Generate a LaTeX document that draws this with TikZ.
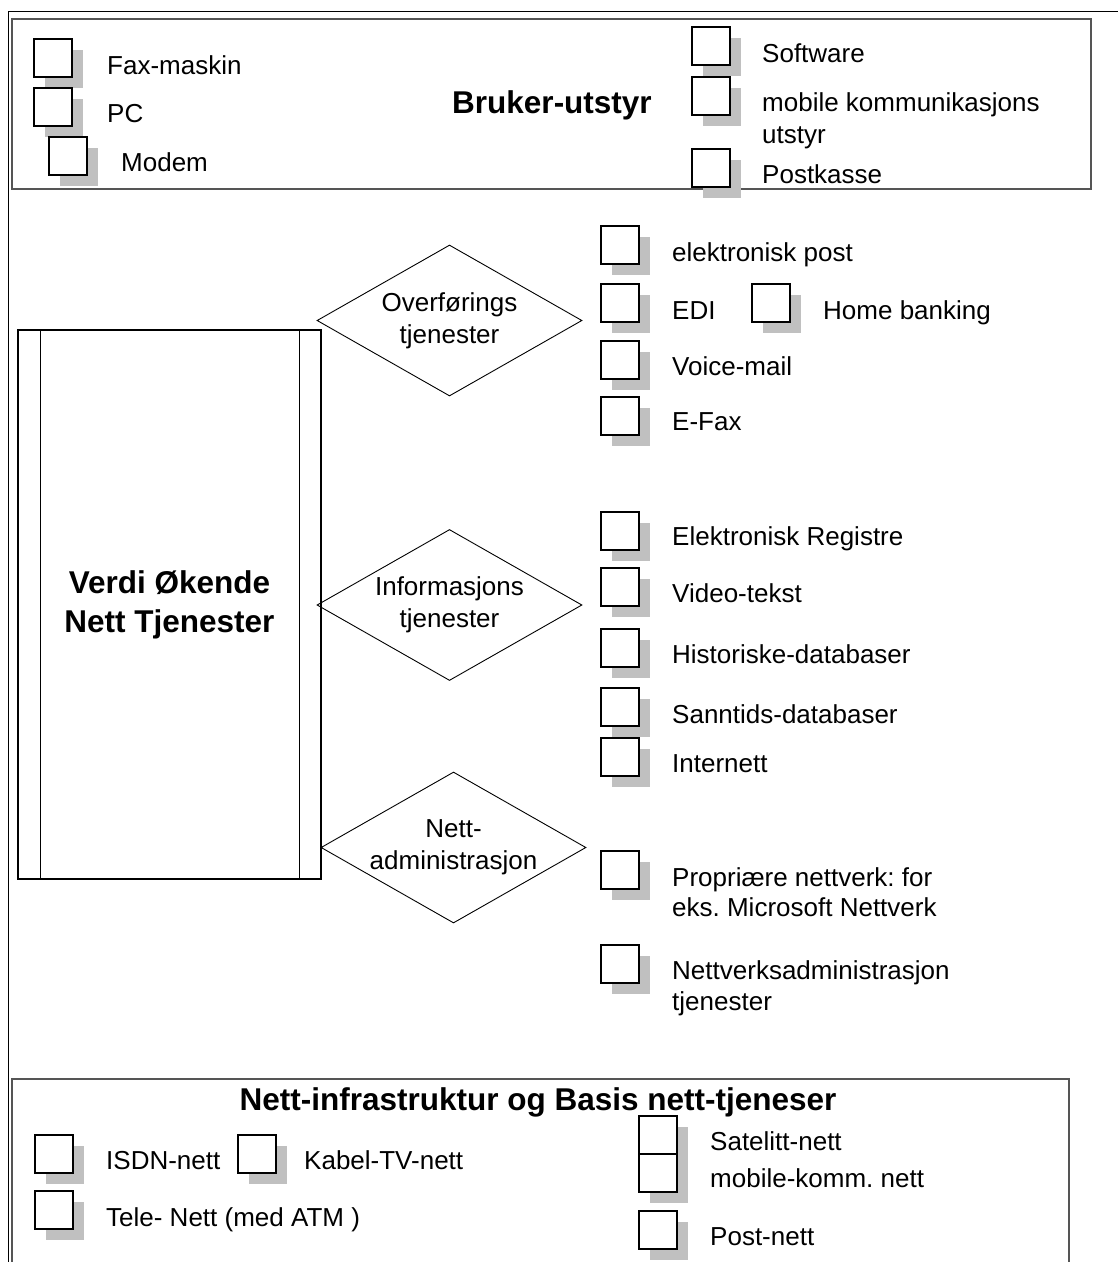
\documentclass[tikz,border=0pt]{standalone}
\usepackage{fontspec}
\setmainfont{Liberation Sans}
\usetikzlibrary{shapes.geometric,shadows}
\definecolor{shd}{RGB}{192,192,192}
\definecolor{frm}{RGB}{85,85,85}
\frenchspacing
\begin{document}
\begin{tikzpicture}[x=1pt,y=-1pt,
  cb/.style={draw, line width=1.6pt, fill=white, minimum width=38pt, minimum height=38pt,
    inner sep=0pt, anchor=north west,
    general shadow={fill=shd, shadow xshift=11pt, shadow yshift=-11pt}},
  lbl/.style={anchor=base west, inner sep=0pt, font=\fontsize{26}{31}\selectfont},
  mlbl/.style={anchor=west, inner sep=0pt, align=left, font=\fontsize{26}{31}\selectfont},
  ttl/.style={anchor=base, inner sep=0pt, font=\fontsize{31.5}{38}\selectfont\bfseries},
  dia/.style={diamond, draw, line width=0.9pt, aspect=1.755, minimum width=265pt,
    minimum height=151pt, inner sep=0pt, align=center, font=\fontsize{26}{32}\selectfont},
  frame/.style={line width=1.4pt, draw=frm},
  thin/.style={line width=1pt, draw=black}]
\useasboundingbox (0,0) rectangle (1118,1262);
\fill[white] (0,0) rectangle (1118,1262);

% outer frame
\draw[thin] (8,1262) -- (8,11) -- (1118,11);

% ---------- Bruker-utstyr ----------
\draw[frame] (12,19) rectangle (1091,189);
\node[ttl] (bruker) at (552,113) {Bruker-utstyr};
\node[cb] (bfax) at (33,38) {};
\node[lbl] (tfax) at (107,74) {Fax-maskin};
\node[cb] (bpc) at (33,87) {};
\node[lbl] (tpc) at (107,122) {PC};
\node[cb] (bmodem) at (48,136) {};
\node[lbl] (tmodem) at (121,171) {Modem};
\node[cb] (bsoft) at (691,26) {};
\node[lbl] (tsoft) at (762,62) {Software};
\node[cb] (bmob) at (691,76) {};
\node[mlbl, font=\fontsize{26}{32}\selectfont] (tmob) at (762,120.5) {mobile kommunikasjons\\utstyr};
\node[cb] (bpost) at (691,148) {};
\node[lbl] (tpost) at (762,183) {Postkasse};

% ---------- Verdi Økende Nett Tjenester ----------
\node[draw, line width=1.2pt, minimum width=303pt, minimum height=549pt, inner sep=0pt,
  align=center, font=\fontsize{31.5}{39}\selectfont\bfseries] (verdi) at (169.5,604.5)
  {Verdi Økende\\Nett Tjenester};
\draw[line width=1.2pt] ([xshift=23pt]verdi.north west) -- ([xshift=23pt]verdi.south west);
\draw[line width=1.2pt] ([xshift=-22.5pt]verdi.north east) -- ([xshift=-22.5pt]verdi.south east);

\node[dia] (overf) at (449.5,320.5) {Overførings\\tjenester};
\node[dia] (info) at (449.5,605) {Informasjons\\tjenester};
\node[dia] (nadmd) at (453.5,847.5) {Nett-\\administrasjon};

% Overførings items
\node[cb] (belpost) at (600,225) {};
\node[lbl] (telpost) at (672,261) {elektronisk post};
\node[cb] (bedi) at (600,283) {};
\node[lbl] (tedi) at (672,319) {EDI};
\node[cb] (bhome) at (751,283) {};
\node[lbl] (thome) at (823,319) {Home banking};
\node[cb] (bvoice) at (600,340) {};
\node[lbl] (tvoice) at (672,375) {Voice-mail};
\node[cb] (befax) at (600,396) {};
\node[lbl] (tefax) at (672,430) {E-Fax};

% Informasjons items
\node[cb] (belreg) at (600,511) {};
\node[lbl] (telreg) at (672,545) {Elektronisk Registre};
\node[cb] (bvideo) at (600,567) {};
\node[lbl] (tvideo) at (672,602) {Video-tekst};
\node[cb] (bhist) at (600,628) {};
\node[lbl] (thist) at (672,663) {Historiske-databaser};
\node[cb] (bsann) at (600,687) {};
\node[lbl] (tsann) at (672,723) {Sanntids-databaser};
\node[cb] (binet) at (600,737) {};
\node[lbl] (tinet) at (672,772) {Internett};

% Nett-administrasjon items
\node[cb] (bprop) at (600,850) {};
\node[mlbl, font=\fontsize{26}{30}\selectfont] (tprop) at (672,892) {Propriære nettverk: for\\eks. Microsoft Nettverk};
\node[cb] (bnadm) at (600,944) {};
\node[mlbl] (tnadm) at (672,988) {Nettverksadministrasjon\\tjenester};

% ---------- Nett-infrastruktur ----------
\draw[frame] (12,1262) -- (12,1079) -- (1069,1079) -- (1069,1262);
\node[ttl] (infra) at (538,1110) {Nett-infrastruktur og Basis nett-tjeneser};
\node[cb] (bisdn) at (34,1134) {};
\node[lbl] (tisdn) at (106,1169) {ISDN-nett};
\node[cb] (bkabel) at (237,1134) {};
\node[lbl] (tkabel) at (304,1169) {Kabel-TV-nett};
\node[cb] (btele) at (34,1190) {};
\node[lbl] (ttele) at (106,1226) {Tele- Nett (med ATM )};
\node[cb] (bsat) at (638,1115) {};
\node[lbl] (tsat) at (710,1150) {Satelitt-nett};
\node[cb] (bmobn) at (638,1153) {};
\node[lbl] (tmobn) at (710,1187) {mobile-komm. nett};
\node[cb] (bpostn) at (638,1210) {};
\node[lbl] (tpostn) at (710,1245) {Post-nett};
\end{tikzpicture}
\end{document}
